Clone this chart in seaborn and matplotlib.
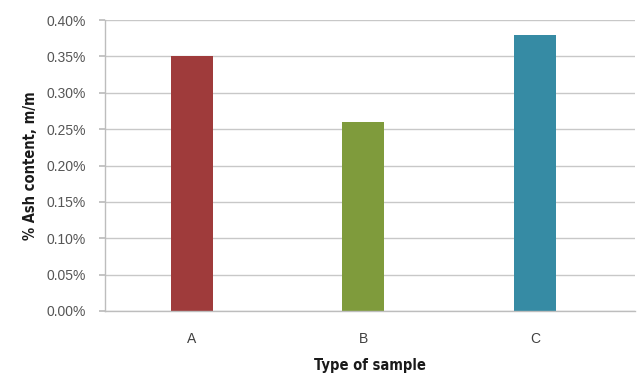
import matplotlib
matplotlib.use("Agg")
import matplotlib.pyplot as plt
import seaborn as sns
import pandas as pd
from matplotlib.ticker import FuncFormatter

samples = ["A", "B", "C"]
ash_content = [0.0035, 0.0026, 0.0038]  # fraction, m/m
bar_colors = ["#9F3B3B", "#7F9B3C", "#368BA4"]
y_ticks = [0.0, 0.0005, 0.001, 0.0015, 0.002, 0.0025, 0.003, 0.0035, 0.004]

df = pd.DataFrame({"sample": samples, "ash": ash_content})

sns.set_theme(style="white")
plt.rcParams["font.family"] = ["Liberation Sans", "DejaVu Sans"]

fig = plt.figure(figsize=(6.37, 3.76), dpi=100)
ax = fig.add_axes([105 / 637, 65 / 376, 530 / 637, 291 / 376])

sns.barplot(data=df, x="sample", y="ash", hue="sample", palette=bar_colors,
            width=0.245, legend=False, ax=ax, saturation=1, linewidth=0)

ax.set_xlim(-0.507, 2.583)
ax.set_ylim(0, 0.004)
ax.set_yticks(y_ticks)
ax.yaxis.set_major_formatter(FuncFormatter(lambda v, _: f"{v * 100:.2f}%"))
ax.set_axisbelow(True)
ax.yaxis.grid(True, color="#C8C8C8", linewidth=1.0)
ax.xaxis.grid(False)

for side in ("top", "right"):
    ax.spines[side].set_visible(False)
for side in ("left", "bottom"):
    ax.spines[side].set_color("#BDBDBD")
    ax.spines[side].set_linewidth(1.0)

ax.tick_params(axis="y", which="major", left=True, length=4, color="#BDBDBD",
               labelsize=10, labelcolor="#555555", pad=10)
ax.tick_params(axis="x", bottom=False, labelsize=10, labelcolor="#404040", pad=9)

label_font = dict(family=["Liberation Sans Narrow", "DejaVu Sans"], weight="bold",
                  size=10.5, color="#1A1A1A", stretch="condensed")
ax.set_xlabel("Type of sample", labelpad=9, **label_font)
ax.set_ylabel("% Ash content, m/m", labelpad=6, **label_font)

fig.savefig("out.png", dpi=100, facecolor="white")
